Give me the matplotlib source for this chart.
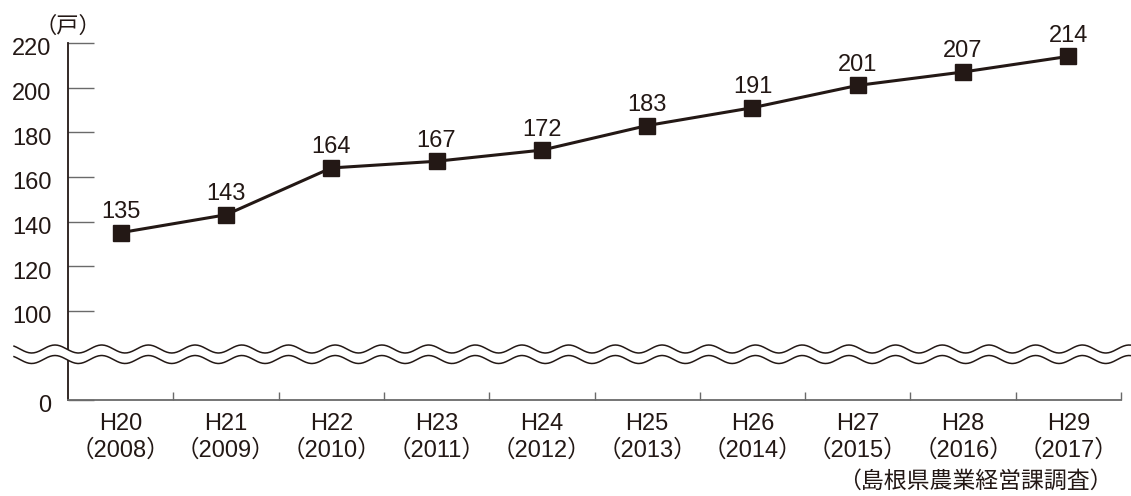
import matplotlib
matplotlib.use('Agg')
import matplotlib.pyplot as plt
import matplotlib.transforms as mtransforms
import numpy as np
from matplotlib.lines import Line2D
from matplotlib.patches import Polygon

plt.rcParams['font.family'] = ['Liberation Sans', 'Noto Sans CJK JP', 'DejaVu Sans']

years_jp = ['H20', 'H21', 'H22', 'H23', 'H24', 'H25', 'H26', 'H27', 'H28', 'H29']
years = ['2008', '2009', '2010', '2011', '2012', '2013', '2014', '2015', '2016', '2017']
households = [135, 143, 164, 167, 172, 183, 191, 201, 207, 214]
ytick_vals = [60, 100, 120, 140, 160, 180, 200, 220]   # 60 sits at the broken-axis zero
ytick_labels = ['0', '100', '120', '140', '160', '180', '200', '220']

ink = '#231815'
W, H = 1131, 496
fig = plt.figure(figsize=(W / 100, H / 100), dpi=100)
ax = fig.add_axes([68 / W, 1 - 400 / H, (1121 - 68) / W, (400 - 43) / H])

x = np.arange(len(households))
ax.plot(x, households, color=ink, lw=2.2, marker='s', ms=12, mfc=ink, mec=ink, clip_on=False, zorder=5)
for xi, v in zip(x, households):
    ax.annotate(str(v), (xi, v), xytext=(0, 10.5), textcoords='offset points',
                ha='center', va='baseline', fontsize=17, color=ink)

ax.set_xlim(-0.5, len(households) - 0.5)
ax.set_ylim(60, 220)
for s in ['top', 'right']:
    ax.spines[s].set_visible(False)
ax.spines['left'].set_color(ink)
ax.spines['left'].set_linewidth(1.3)
ax.spines['bottom'].set_color('#6a6a6a')
ax.spines['bottom'].set_linewidth(1.3)

ax.set_yticks(ytick_vals)
ax.set_yticklabels(ytick_labels)
ax.tick_params(axis='y', direction='in', length=19, width=1.0, color='#6a6a6a',
               labelsize=17, labelcolor=ink, pad=12)
shift = mtransforms.ScaledTranslation(0, -4 / 100, fig.dpi_scale_trans)
for lbl in ax.get_yticklabels():
    lbl.set_transform(lbl.get_transform() + shift)

ax.set_xticks(x)
ax.set_xticklabels([f'{a}\n（{b}）' for a, b in zip(years_jp, years)])
ax.tick_params(axis='x', length=0, labelsize=17, labelcolor=ink, pad=9)
ax.set_xticks(np.arange(0.5, len(households) - 0.4, 1), minor=True)
ax.tick_params(axis='x', which='minor', direction='in', length=6, width=1.0, color='#6a6a6a')
for lbl in ax.get_xticklabels():
    lbl.set_linespacing(1.3)

# wavy break band across the figure
xs = np.linspace(14, W, 900)
wave = 4 * np.cos(2 * np.pi * (xs - 55) / 46.7)
y_top = 349 - wave
y_bot = 359.5 - wave
band = np.concatenate([np.column_stack([xs, y_top]), np.column_stack([xs[::-1], y_bot[::-1]])])
band[:, 0] /= W
band[:, 1] = 1 - band[:, 1] / H
fig.add_artist(Polygon(band, closed=True, facecolor='white', edgecolor='none', transform=fig.transFigure, zorder=10))
for yy in (y_top, y_bot):
    fig.add_artist(Line2D(xs / W, 1 - yy / H, color=ink, lw=1.1, transform=fig.transFigure, zorder=11))

fig.text(68 / W, 1 - 27 / H, '（戸）', ha='center', va='center', fontsize=16, color=ink)
fig.text(1113 / W, 1 - 481 / H, '（島根県農業経営課調査）', ha='right', va='center', fontsize=16.5, color=ink)

fig.savefig('out.png', dpi=100)
